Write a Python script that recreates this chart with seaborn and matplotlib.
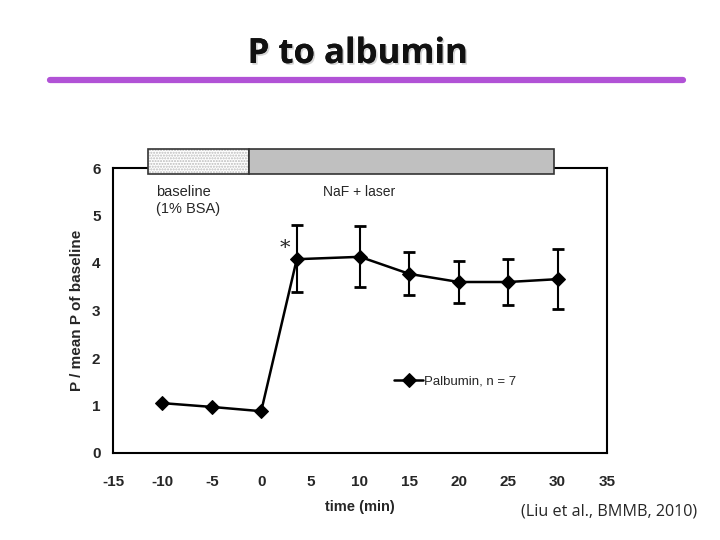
import matplotlib
matplotlib.use("Agg")
import matplotlib.pyplot as plt
import matplotlib.patheffects as pe
import seaborn as sns
import numpy as np
import pandas as pd
from matplotlib.patches import Rectangle

# ---- data ----
time_min = [-10, -5, 0, 3.6, 10, 15, 20, 25, 30]
ratio = [1.05, 0.97, 0.88, 4.08, 4.13, 3.77, 3.60, 3.60, 3.66]
err_upper = [0, 0, 0, 0.72, 0.65, 0.46, 0.44, 0.48, 0.63]
err_lower = [0, 0, 0, 0.69, 0.64, 0.44, 0.44, 0.48, 0.63]
has_err = [False, False, False, True, True, True, True, True, True]
series_label = "Palbumin, n = 7"
x_ticks = [-15, -10, -5, 0, 5, 10, 15, 20, 25, 30, 35]
y_ticks = [0, 1, 2, 3, 4, 5, 6]
phase_bounds = [-11.5, -1.2, 29.6]
phase_labels = ["baseline\n(1% BSA)", "NaF + laser"]

df = pd.DataFrame({"time": time_min, "ratio": ratio, "series": series_label})

sns.set_style("white")
plt.rcParams['font.family'] = ['Liberation Sans', 'DejaVu Sans']

fig = plt.figure(figsize=(7.2, 5.4), dpi=100)
ax = fig.add_axes([113/720, 1-453/540, (607-113)/720, (453-168)/540])

sns.lineplot(data=df, x="time", y="ratio", hue="series", palette=["black"],
             marker="D", markersize=7, linewidth=1.8, markeredgecolor="black",
             ax=ax, zorder=3)

ex = [t for t, h in zip(time_min, has_err) if h]
ey = [r for r, h in zip(ratio, has_err) if h]
el = [e for e, h in zip(err_lower, has_err) if h]
eu = [e for e, h in zip(err_upper, has_err) if h]
ax.errorbar(ex, ey, yerr=[el, eu], fmt="none", ecolor="black", elinewidth=1.5,
            capsize=4, capthick=2, zorder=2)

ax.set_xlim(-15, 35)
ax.set_ylim(0, 6)
ax.set_xticks(x_ticks)
ax.set_yticks(y_ticks)
ax.set_xticklabels([str(v) for v in x_ticks], fontweight="bold", fontsize=11)
ax.set_yticklabels([str(v) for v in y_ticks], fontweight="bold", fontsize=11)
ax.tick_params(axis="both", direction="out", length=3, width=1, color="#bbbbbb")
ax.tick_params(axis="x", pad=13)
ax.tick_params(axis="y", pad=6)
ax.set_xlabel("time (min)", fontweight="bold", fontsize=10.5, labelpad=8)
ax.set_ylabel("P / mean P of baseline", fontweight="bold", fontsize=11, labelpad=6)
for s in ax.spines.values():
    s.set_color("black")
    s.set_linewidth(1.5)

# phase bars above the plot
ax.add_patch(Rectangle((phase_bounds[0], 5.87), phase_bounds[1]-phase_bounds[0], 0.53,
                       facecolor="white", edgecolor="#bbbbbb", hatch="......",
                       linewidth=0, clip_on=False, zorder=4))
ax.add_patch(Rectangle((phase_bounds[0], 5.87), phase_bounds[1]-phase_bounds[0], 0.53,
                       facecolor="none", edgecolor="#333333", linewidth=1.2,
                       clip_on=False, zorder=5))
ax.add_patch(Rectangle((phase_bounds[1], 5.87), phase_bounds[2]-phase_bounds[1], 0.53,
                       facecolor="#c0c0c0", edgecolor="#333333", linewidth=1.2,
                       clip_on=False, zorder=5))

ax.text(-10.6, 5.64, phase_labels[0], fontsize=10.5, va="top", ha="left", linespacing=1.25)
ax.text(6.3, 5.64, phase_labels[1], fontsize=10, va="top", ha="left")
ax.text(2.4, 4.3, "*", fontsize=15, ha="center", va="center", family="DejaVu Serif")

leg = ax.legend(loc="center left", bbox_to_anchor=(0.545, 0.25), frameon=False,
                fontsize=9.5, handlelength=2.2, handletextpad=0.1)

# title and decoration
fig.text(0.497, 0.9, "P to albumin", ha="center", va="center", fontsize=25,
         fontweight="bold", family=["Open Sans", "DejaVu Sans"], color="#111111",
         path_effects=[pe.withSimplePatchShadow(offset=(1.2, -1.2), shadow_rgbFace="#aaaaaa", alpha=0.5),
                       pe.Normal()])
fig.add_artist(plt.Line2D([50/720, 683/720], [1-80/540, 1-80/540],
                          color="#b152d6", linewidth=4.5))
fig.text(0.724, 0.052, "(Liu et al., BMMB, 2010)", ha="left", va="center",
         fontsize=11.6, family=["Open Sans", "DejaVu Sans"])

fig.savefig("out.png", dpi=100)
